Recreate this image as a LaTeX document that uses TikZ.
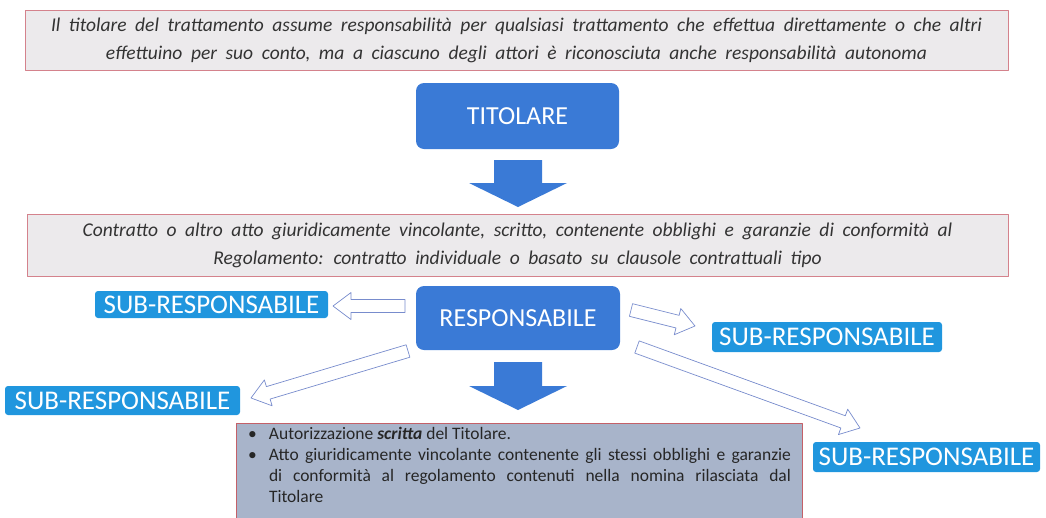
\documentclass[tikz,border=0pt]{standalone}
\usepackage{fontspec}
\setmainfont{Carlito}
\usetikzlibrary{calc}
\definecolor{titblu}{RGB}{58,122,214}
\definecolor{subblu}{RGB}{32,150,222}
\definecolor{notefill}{RGB}{236,234,236}
\definecolor{noteline}{RGB}{212,130,140}
\definecolor{listfill}{RGB}{168,180,202}
\definecolor{listline}{RGB}{196,96,104}
\definecolor{hollowline}{RGB}{120,140,205}
\newcommand\spaziato{\spaceskip=0.44em\relax}
\newcommand\sillabeno{\hyphenpenalty=10000\relax}

\begin{document}
\begin{tikzpicture}[x=1pt, y=-1pt, line join=round]
	% ---- area del disegno (come l'immagine) ----
	\useasboundingbox (0,0) rectangle (1046,517);
	
	% ---- stili ----
	\tikzset{
		notebox/.style={draw=noteline, fill=notefill, line width=1pt, align=center,
			inner sep=0pt, text=black!80,
			font={\fontsize{19.5}{28}\selectfont\itshape\spaziato}},
		rolebox/.style={fill=titblu, rounded corners=8pt, text=white,
			font=\fontsize{26}{30}\selectfont},
		subbox/.style={fill=subblu, rounded corners=3pt, text=white, inner sep=0pt,
			font=\fontsize{27}{30}\selectfont},
		listbox/.style={draw=listline, fill=listfill, line width=1pt, align=justify,
			inner xsep=11.5pt, inner ysep=4pt, text=black!85,
			font={\fontsize{17.5}{21}\selectfont\sillabeno}},
		blockarrow/.style n args={3}{to path={
				($(\tikztotarget)!#3!(\tikztostart)$) coordinate (hb)
				($(\tikztostart)!#1!90:(\tikztotarget)$)
				-- ($(hb)!#1!-90:(\tikztostart)$)
				-- ($(hb)!#2!-90:(\tikztostart)$)
				-- (\tikztotarget)
				-- ($(hb)!#2!90:(\tikztostart)$)
				-- ($(hb)!#1!90:(\tikztostart)$)
				-- ($(\tikztostart)!#1!-90:(\tikztotarget)$)
				-- cycle}},
		fullarrow/.style={draw=none, fill=titblu, blockarrow={24pt}{49pt}{24pt}},
		hollowarrow/.style={draw=hollowline, fill=white, line width=0.7pt,
			blockarrow={6.5pt}{13.5pt}{18pt}}
	}
	
	% ---- riquadri di testo ----
	\node[notebox, minimum width=983, minimum height=60] (nota) at (516.5,40)
	{Il titolare del trattamento assume responsabilità per qualsiasi trattamento che effettua direttamente o che altri\\
		effettuino per suo conto, ma a ciascuno degli attori è riconosciuta anche responsabilità autonoma};
	\node[notebox, minimum width=981, minimum height=62] (contratto) at (517.5,245)
	{Contratto o altro atto giuridicamente vincolante, scritto, contenente obblighi e garanzie di conformità al\\
		Regolamento: contratto individuale o basato su clausole contrattuali tipo};
	
	% ---- ruoli ----
	\node[rolebox, minimum width=203, minimum height=66] (titolare) at (517.5,116) {TITOLARE};
	\node[rolebox, minimum width=204, minimum height=64] (responsabile) at (518,318) {RESPONSABILE};
	
	\node[subbox, minimum width=233, minimum height=27] (subA) at (211.5,304.5) {SUB-RESPONSABILE};
	\node[subbox, minimum width=230, minimum height=30] (subB) at (827,337) {SUB-RESPONSABILE};
	\node[subbox, minimum width=235, minimum height=29] (subC) at (122.5,400.5) {SUB-RESPONSABILE};
	\node[subbox, minimum width=227, minimum height=30] (subD) at (926.5,457) {SUB-RESPONSABILE};
	
	% ---- elenco in basso ----
	\node[listbox, anchor=north west, text width=543] (elenco) at (236,423)
	{\hangindent=21pt\hangafter=1\makebox[21pt][l]{\textbullet}Autorizzazione \textbf{\textit{scritta}} del Titolare.\par
		\hangindent=21pt\hangafter=1\makebox[21pt][l]{\textbullet}Atto giuridicamente vincolante contenente gli stessi obblighi e garanzie\linebreak
		di conformità al regolamento contenuti nella nomina rilasciata dal\linebreak
		Titolare\par
		\vspace*{16pt}};
	
	% ---- frecce piene ----
	\coordinate (giuA) at (518,160);
	\coordinate (giuA2) at (518,207);
	\coordinate (giuB) at (518,362);
	\coordinate (giuB2) at (518,410);
	\draw[fullarrow] (giuA) to (giuA2);
	\draw[fullarrow] (giuB) to (giuB2);
	
	% ---- frecce vuote verso i sub-responsabili ----
	\coordinate (codaA) at (405,306);
	\coordinate (puntaA) at (333,306);
	\coordinate (codaB) at (631,310);
	\coordinate (puntaB) at (695,326);
	\coordinate (codaC) at (408,351);
	\coordinate (puntaC) at (251,398);
	\coordinate (codaD) at (637,347);
	\coordinate (puntaD) at (860,428);
	\draw[hollowarrow] (codaA) to (puntaA);
	\draw[hollowarrow] (codaB) to (puntaB);
	\draw[hollowarrow] (codaC) to (puntaC);
	\draw[hollowarrow] (codaD) to (puntaD);
\end{tikzpicture}
\end{document}
